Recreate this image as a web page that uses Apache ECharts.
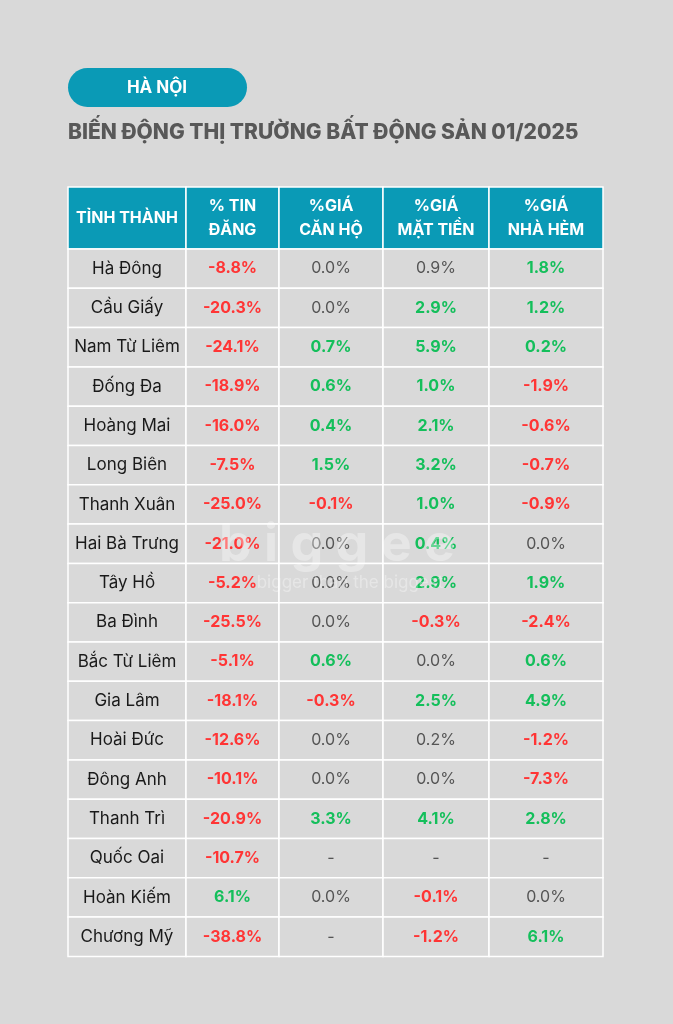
<!DOCTYPE html>
<html>
<head>
<meta charset="utf-8">
<script src="https://cdn.jsdelivr.net/npm/echarts@6/dist/echarts.min.js"></script>
<style>
  html, body { margin: 0; padding: 0; background: #d9d9d9; }
  #chart { width: 673px; height: 1024px; }
</style>
</head>
<body>
<div id="chart"></div>
<script>
const headers = ['TỈNH THÀNH', '% TIN\nĐĂNG', '%GIÁ\nCĂN HỘ', '%GIÁ\nMẶT TIỀN', '%GIÁ\nNHÀ HẺM'];
const districts = ['Hà Đông', 'Cầu Giấy', 'Nam Từ Liêm', 'Đống Đa', 'Hoàng Mai', 'Long Biên', 'Thanh Xuân',
  'Hai Bà Trưng', 'Tây Hồ', 'Ba Đình', 'Bắc Từ Liêm', 'Gia Lâm', 'Hoài Đức', 'Đông Anh', 'Thanh Trì',
  'Quốc Oai', 'Hoàn Kiếm', 'Chương Mỹ'];
// null = không có dữ liệu ("-")
const tinDang = [-8.8, -20.3, -24.1, -18.9, -16.0, -7.5, -25.0, -21.0, -5.2, -25.5, -5.1, -18.1, -12.6, -10.1, -20.9, -10.7, 6.1, -38.8];
const giaCanHo = [0.0, 0.0, 0.7, 0.6, 0.4, 1.5, -0.1, 0.0, 0.0, 0.0, 0.6, -0.3, 0.0, 0.0, 3.3, null, 0.0, null];
const giaMatTien = [0.9, 2.9, 5.9, 1.0, 2.1, 3.2, 1.0, 0.4, 2.9, -0.3, 0.0, 2.5, 0.2, 0.0, 4.1, null, -0.1, -1.2];
const giaNhaHem = [1.8, 1.2, 0.2, -1.9, -0.6, -0.7, -0.9, 0.0, 1.9, -2.4, 0.6, 4.9, -1.2, -7.3, 2.8, null, 0.0, 6.1];
// ô không tô màu dù giá trị dương: [hàng, cột]
const neutralCells = [[0, 3], [12, 3]];

const colEdges = [0, 118, 211, 315, 421, 535];
const headerH = 62;
const rowH = 39.3;
const totalH = headerH + rowH * districts.length;

const columns = [tinDang, giaCanHo, giaMatTien, giaNhaHem];
const cells = [];
headers.forEach((h, c) => cells.push([c, -1, h]));
districts.forEach((d, r) => {
  cells.push([0, r, d]);
  columns.forEach((arr, c) => cells.push([c + 1, r, arr[r]]));
});

function isNeutral(r, c) {
  return neutralCells.some(p => p[0] === r && p[1] === c);
}

function textStyleFor(c, r, v) {
  const font = 'Inter, "Noto Sans", sans-serif';
  if (r < 0) return { fill: '#fff', font: 'bold 16px ' + font, lineHeight: 24 };
  if (c === 0) return { fill: '#1a1a1a', font: '17px ' + font };
  if (v === null || isNeutral(r, c)) return { fill: '#555', font: '16px ' + font };
  if (v > 0) return { fill: '#14bf5b', font: 'bold 16px ' + font };
  if (v < 0) return { fill: '#ff3535', font: 'bold 16px ' + font };
  return { fill: '#555', font: '16px ' + font };
}

function fmt(c, r, v) {
  if (r < 0 || c === 0) return v;
  if (v === null) return '-';
  return v.toFixed(1) + '%';
}

const chart = echarts.init(document.getElementById('chart'));
chart.setOption({
  backgroundColor: '#d9d9d9',
  animation: false,
  grid: { left: 68, right: 70, top: 187, bottom: 1024 - 187 - totalH },
  xAxis: { type: 'value', min: 0, max: 535, show: false },
  yAxis: { type: 'value', min: 0, max: totalH, inverse: true, show: false },
  graphic: [
    { type: 'rect', shape: { x: 68, y: 68, width: 179, height: 39, r: 19.5 }, style: { fill: '#0a9ab6' } },
    { type: 'text', x: 157, y: 88, style: { text: 'HÀ NỘI', fill: '#fff', font: 'bold 17px Inter, sans-serif', textAlign: 'center', textVerticalAlign: 'middle' } },
    { type: 'text', x: 68, y: 133, style: { text: 'BIẾN ĐỘNG THỊ TRƯỜNG BẤT ĐỘNG SẢN 01/2025', fill: '#585858', font: '800 21px Inter, sans-serif', textVerticalAlign: 'middle' } },
    { type: 'text', x: 337, y: 545, z: 100, style: { text: 'b i g g e e', fill: 'rgba(255,255,255,0.35)', font: 'bold 52px Inter, sans-serif', textAlign: 'center', textVerticalAlign: 'middle' } },
    { type: 'text', x: 350, y: 583, z: 100, style: { text: 'bigger than the biggest', fill: 'rgba(255,255,255,0.35)', font: '17px Inter, sans-serif', textAlign: 'center', textVerticalAlign: 'middle' } }
  ],
  series: [{
    type: 'custom',
    coordinateSystem: 'cartesian2d',
    data: cells,
    encode: { x: 0, y: 1 },
    renderItem: function (params, api) {
      const c = api.value(0), r = api.value(1);
      const v = cells[params.dataIndex][2];
      const y0 = r < 0 ? 0 : headerH + r * rowH;
      const y1 = r < 0 ? headerH : y0 + rowH;
      const p0 = api.coord([colEdges[c], y0]);
      const p1 = api.coord([colEdges[c + 1], y1]);
      const ts = textStyleFor(c, r, v);
      return {
        type: 'group',
        children: [
          { type: 'rect', shape: { x: p0[0], y: p0[1], width: p1[0] - p0[0], height: p1[1] - p0[1] },
            style: { fill: r < 0 ? '#0a9ab6' : '#d9d9d9', stroke: '#ffffff', lineWidth: 1.5 } },
          { type: 'text', x: (p0[0] + p1[0]) / 2, y: (p0[1] + p1[1]) / 2,
            style: Object.assign({ text: fmt(c, r, v), textAlign: 'center', textVerticalAlign: 'middle' }, ts) }
        ]
      };
    }
  }]
});
</script>
</body>
</html>
